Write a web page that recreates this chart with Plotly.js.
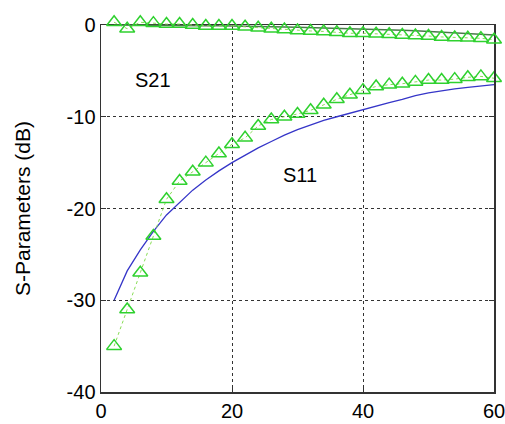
<!DOCTYPE html>
<html>
<head>
<meta charset="utf-8">
<script src="https://cdn.plot.ly/plotly-3.0.1.min.js"></script>
<style>html,body{margin:0;padding:0;background:#fff;}#chart{width:505px;height:424px;}</style>
</head>
<body>
<div id="chart"></div>
<script>
// Frequency points (x axis)
const freq = [2,4,6,8,10,12,14,16,18,20,22,24,26,28,30,32,34,36,38,40,42,44,46,48,50,52,54,56,58,60];

// S11 simulated (blue solid)
const s11Sim = [-30,-26.8,-24.5,-22.5,-20.7,-19.3,-18.0,-16.9,-15.9,-15.0,-14.2,-13.4,-12.7,-12.0,-11.4,-10.9,-10.4,-10.0,-9.6,-9.2,-8.8,-8.45,-8.1,-7.7,-7.4,-7.15,-6.95,-6.8,-6.65,-6.5];

// S11 measured (green triangles)
const s11Meas = [-35,-31,-27,-23,-19,-17,-16,-15,-14,-13,-12.3,-11,-10.3,-10.0,-9.7,-9.3,-8.7,-8.1,-7.6,-7.1,-6.7,-6.5,-6.4,-6.2,-6.0,-6.0,-5.9,-5.7,-5.6,-5.8];

// S21 simulated (dark line)
const s21Sim = [0,0,-0.02,-0.03,-0.05,-0.06,-0.07,-0.08,-0.09,-0.1,-0.12,-0.15,-0.18,-0.21,-0.25,-0.28,-0.31,-0.34,-0.37,-0.4,-0.45,-0.5,-0.56,-0.63,-0.7,-0.77,-0.85,-0.93,-1.01,-1.1];

// S21 measured (green triangles)
const s21Meas = [0.3,-0.4,0.3,0.2,0.1,0.1,0.0,-0.1,-0.1,-0.1,-0.2,-0.3,-0.4,-0.5,-0.6,-0.65,-0.7,-0.8,-0.9,-0.9,-0.95,-1.0,-1.1,-1.15,-1.2,-1.3,-1.35,-1.4,-1.45,-1.6];

const labels = ['S21','S11'];
const labelX = [7.9, 30.4];
const labelY = [-6.0, -16.4];

const xTicks = [0,20,40,60];
const yTicks = [-40,-30,-20,-10,0];
const xRange = [0, 60];
const yRange = [-40, 0];

// geometry: whole drawing area from top margin to bottom; main axes occupy lower part
const H = 424, mT = 12, mB = 32;
const areaH = H - mT - mB;          // total plotting area height
const mainTop = 25;                 // pixel of y = 0
const dTop = (H - mB - mainTop) / areaH; // main y-axis domain top fraction
const y2Max = yRange[0] + (yRange[1] - yRange[0]) / dTop; // overlay axis top value (same scale)

const green = '#2fd12f';
const mk = {symbol: 'triangle-up-open', size: 13, color: green, line: {color: green, width: 1.5}};
const dotLine = {color: '#88dd55', width: 1, dash: 'dot'};
const traces = [
  {x: freq, y: s11Sim, mode: 'lines', line: {color: '#3535c8', width: 1.3}, hoverinfo: 'none'},
  {x: freq, y: s11Meas, mode: 'lines+markers', line: dotLine, marker: mk, cliponaxis: false, hoverinfo: 'none'},
  {x: freq, y: s21Sim, xaxis: 'x2', yaxis: 'y2', mode: 'lines', line: {color: '#4a7a4a', width: 1.5}, cliponaxis: false, hoverinfo: 'none'},
  {x: freq, y: s21Meas, xaxis: 'x2', yaxis: 'y2', mode: 'lines+markers', line: dotLine, marker: mk, cliponaxis: false, hoverinfo: 'none'}
];

const font = {family: 'Liberation Sans, Arial, sans-serif', size: 20, color: '#000'};

const layout = {
  width: 505, height: H,
  margin: {l: 101, r: 11, t: mT, b: mB},
  paper_bgcolor: '#fff', plot_bgcolor: 'rgba(0,0,0,0)',
  showlegend: false,
  font: font,
  xaxis: {
    range: xRange, tickvals: xTicks, ticktext: xTicks.map(String),
    showline: true, linecolor: '#333', linewidth: 1.5, mirror: 'ticks',
    ticks: 'inside', ticklen: 5, tickcolor: '#333',
    showgrid: true, gridcolor: '#333', griddash: 'dot', gridwidth: 1,
    zeroline: false, tickfont: font, ticklabeloverflow: 'allow', anchor: 'y'
  },
  yaxis: {
    domain: [0, dTop],
    range: yRange, tickvals: yTicks, ticktext: yTicks.map(String),
    showline: true, linecolor: '#333', linewidth: 1.5, mirror: 'ticks',
    ticks: 'inside', ticklen: 5, tickcolor: '#333',
    showgrid: true, gridcolor: '#333', griddash: 'dot', gridwidth: 1,
    zeroline: false, tickfont: font, ticklabeloverflow: 'allow',
    title: {text: 'S-Parameters (dB)', font: {family: font.family, size: 21, color: '#000'}, standoff: 30}
  },
  xaxis2: {range: xRange, visible: false, showgrid: false, zeroline: false, anchor: 'y2', overlaying: 'x'},
  yaxis2: {domain: [0, 1], range: [yRange[0], y2Max], visible: false, showgrid: false, zeroline: false, anchor: 'x2'},
  annotations: labels.map((t, i) => ({
    x: labelX[i], y: labelY[i], xref: 'x', yref: 'y', text: t, showarrow: false,
    font: font, xanchor: 'center', yanchor: 'middle'
  }))
};

Plotly.newPlot('chart', traces, layout, {staticPlot: true, displayModeBar: false});
</script>
</body>
</html>
